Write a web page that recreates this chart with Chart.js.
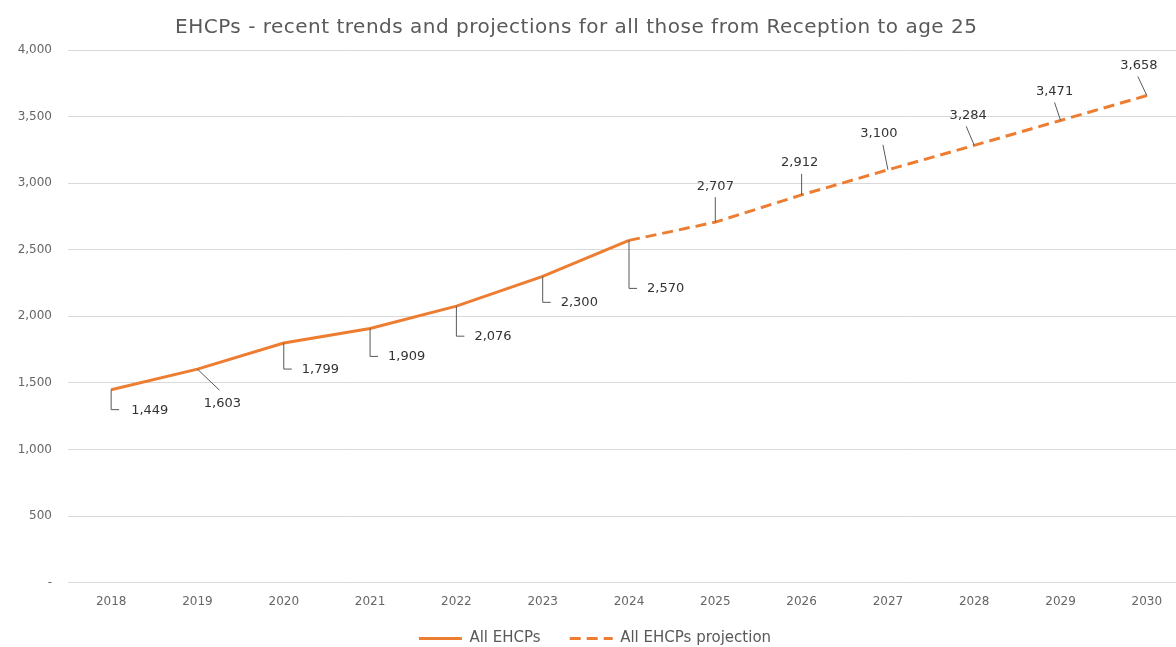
<!DOCTYPE html>
<html>
<head>
<meta charset="utf-8">
<script src="https://cdn.jsdelivr.net/npm/chart.js@4/dist/chart.umd.min.js"></script>
<style>
  html, body { margin: 0; padding: 0; background: #fff; overflow: hidden; }
  #wrap { position: relative; width: 1192px; height: 647px; }
  #title {
    position: absolute; top: 14px; left: 175px;
    font: 20px "DejaVu Sans", sans-serif; color: #595959;
    letter-spacing: 0.5px; white-space: nowrap;
  }
</style>
</head>
<body>
<div id="wrap">
  <div id="title">EHCPs - recent trends and projections for all those from Reception to age 25</div>
  <canvas id="chart"></canvas>
</div>
<script>
// Chart data
const years = ['2018','2019','2020','2021','2022','2023','2024','2025','2026','2027','2028','2029','2030'];
const actual = [1449, 1603, 1799, 1909, 2076, 2300, 2570, null, null, null, null, null, null];
const projection = [null, null, null, null, null, null, 2570, 2707, 2912, 3100, 3284, 3471, 3658];
const yTicks = [0, 500, 1000, 1500, 2000, 2500, 3000, 3500, 4000];

// leader line placement per point: [endDx, endDy, labelDx, labelDy, type]
const leaders = [
    [0, 20, 20, 21, 'elbow'],
    [22, 21, 25, 34, 'line'],
    [0, 26, 18, 27, 'elbow'],
    [0, 28, 18, 28, 'elbow'],
    [0, 30, 18, 30, 'elbow'],
    [0, 26, 18, 26, 'elbow'],
    [0, 48, 18, 48, 'elbow'],
    [0, -25, 0, -36, 'line'],
    [0, -21, -2, -32, 'line'],
    [-5, -25, -9, -36, 'line'],
    [-8, -19, -6, -30, 'line'],
    [-6, -18, -6, -29, 'line'],
    [-9, -19, -8, -30, 'line']
];

const ORANGE = '#ED7D31';
const FONT = '"DejaVu Sans", sans-serif';
const fmt = v => v.toLocaleString('en-GB');

const leaderLabels = {
    id: 'leaderLabels',
    afterDatasetsDraw(chart) {
        const ctx = chart.ctx;
        ctx.save();
        ctx.font = '13px ' + FONT;
        ctx.fillStyle = '#333';
        ctx.strokeStyle = '#595959';
        ctx.lineWidth = 1;
        years.forEach((y, i) => {
            const ds = actual[i] != null ? 0 : 1;
            const val = ds === 0 ? actual[i] : projection[i];
            const pt = chart.getDatasetMeta(ds).data[i];
            const [ex, ey, lx, ly, type] = leaders[i];
            const px = pt.x, py = pt.y;
            ctx.beginPath();
            ctx.moveTo(px, py);
            ctx.lineTo(px + ex, py + ey);
            if (type === 'elbow') ctx.lineTo(px + ex + 8, py + ey);
            ctx.stroke();
            ctx.textBaseline = 'middle';
            ctx.textAlign = type === 'elbow' ? 'left' : 'center';
            ctx.fillText(fmt(val), px + lx, py + ly);
        });
        ctx.restore();
    }
};

new Chart(document.getElementById('chart'), {
    type: 'line',
    data: {
        labels: years,
        datasets: [
            { label: 'All EHCPs', data: actual, borderColor: ORANGE, backgroundColor: ORANGE,
              borderWidth: 3, pointRadius: 0, tension: 0 },
            { label: 'All EHCPs projection', data: projection, borderColor: ORANGE, backgroundColor: ORANGE,
              borderWidth: 3, borderDash: [11, 6], pointRadius: 0, tension: 0 }
        ]
    },
    options: {
        responsive: true,
        maintainAspectRatio: false,
        animation: false,
        layout: { padding: { left: 0, right: 2, top: 50, bottom: -9 } },
        plugins: {
            title: { display: false },
            tooltip: { enabled: false },
            legend: {
                position: 'bottom',
                labels: {
                    usePointStyle: true, pointStyle: 'line', pointStyleWidth: 43, boxWidth: 43,
                    color: '#595959', padding: 10,
                    font: { family: FONT, size: 15 },
                    generateLabels: chart => {
                        const items = Chart.defaults.plugins.legend.labels.generateLabels(chart);
                        items.forEach((it, i) => {
                            it.lineDash = chart.data.datasets[it.datasetIndex].borderDash || [];
                            it.lineWidth = 3;
                            // widen the gap between the two entries
                            if (i === 0) it.text += '    ';
                        });
                        return items;
                    }
                }
            }
        },
        scales: {
            x: {
                offset: true,
                grid: { display: false, drawTicks: false },
                border: { display: false },
                ticks: { color: '#666', padding: 12, font: { family: FONT, size: 12 } }
            },
            y: {
                min: 0, max: 4000,
                afterBuildTicks: axis => { axis.ticks = yTicks.map(v => ({ value: v })); },
                afterFit: a => { a.width = 68; },
                grid: { color: '#d9d9d9', drawTicks: false },
                border: { display: false },
                ticks: {
                    color: '#666', padding: 16,
                    font: { family: FONT, size: 12 },
                    callback: v => v === 0 ? '-' : fmt(v)
                }
            }
        }
    },
    plugins: [leaderLabels]
});
</script>
</body>
</html>
